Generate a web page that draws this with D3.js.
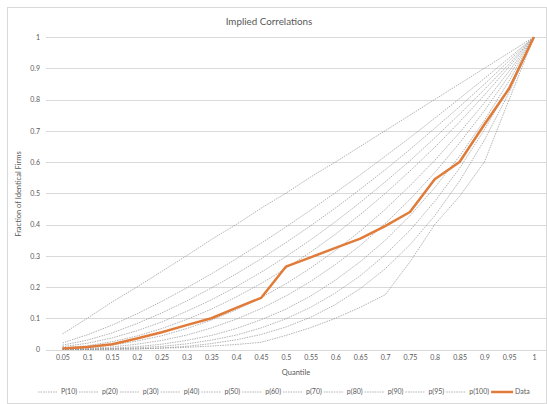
<!DOCTYPE html>
<html><head><meta charset="utf-8">
<script src="https://cdn.jsdelivr.net/npm/d3@7"></script>
<style>body{margin:0;background:#fff}svg{display:block}text{font-family:Lato,"Open Sans",sans-serif;fill:#595959}</style>
</head><body><svg id="c" width="547" height="404"></svg>
<script>
const quantiles = ["0.05","0.1","0.15","0.2","0.25","0.3","0.35","0.4","0.45","0.5","0.55","0.6","0.65","0.7","0.75","0.8","0.85","0.9","0.95","1"];
const yTicks = [0,0.1,0.2,0.3,0.4,0.5,0.6,0.7,0.8,0.9,1];
const seriesNames = ["P(10)","p(20)","p(30)","p(40)","p(50)","p(60)","p(70)","p(80)","p(90)","p(95)","p(100)"];
const p10  = [0.05,0.1,0.152,0.2,0.25,0.3,0.352,0.4,0.452,0.5,0.552,0.6,0.65,0.7,0.75,0.8,0.85,0.9,0.95,1];
const p20  = [0.021,0.047,0.078,0.114,0.154,0.197,0.242,0.29,0.34,0.392,0.446,0.502,0.559,0.618,0.678,0.74,0.803,0.867,0.933,1];
const p30  = [0.014,0.03,0.053,0.083,0.117,0.155,0.197,0.242,0.29,0.342,0.396,0.453,0.513,0.575,0.64,0.708,0.777,0.849,0.924,1];
const p40  = [0.009,0.02,0.037,0.06,0.088,0.122,0.159,0.201,0.247,0.297,0.351,0.409,0.471,0.536,0.604,0.677,0.753,0.832,0.914,1];
const p50  = [0.005,0.012,0.025,0.043,0.067,0.096,0.129,0.168,0.211,0.259,0.312,0.369,0.432,0.499,0.571,0.647,0.728,0.814,0.905,1];
const p60  = [0.003,0.007,0.014,0.027,0.044,0.067,0.094,0.127,0.166,0.21,0.261,0.317,0.379,0.448,0.524,0.605,0.694,0.789,0.891,1];
const p70  = [0.002,0.004,0.008,0.017,0.029,0.046,0.069,0.097,0.131,0.171,0.218,0.272,0.333,0.403,0.48,0.566,0.661,0.764,0.877,1];
const p80  = [0.001,0.002,0.004,0.009,0.017,0.029,0.045,0.067,0.095,0.129,0.171,0.222,0.281,0.349,0.428,0.518,0.619,0.733,0.86,1];
const p90  = [0.001,0.001,0.002,0.005,0.01,0.018,0.03,0.046,0.069,0.098,0.135,0.181,0.236,0.303,0.381,0.474,0.58,0.703,0.842,1];
const p95  = [0,0,0.001,0.002,0.005,0.01,0.019,0.031,0.048,0.072,0.103,0.144,0.195,0.258,0.335,0.428,0.539,0.67,0.823,1];
const p100 = [0,0,0.001,0.002,0.004,0.007,0.011,0.016,0.023,0.045,0.07,0.1,0.135,0.175,0.28,0.4,0.49,0.6,0.8,1];
const dataValues = [0.003,0.008,0.017,0.035,0.055,0.078,0.1,0.133,0.165,0.265,0.295,0.325,0.355,0.395,0.44,0.545,0.6,0.72,0.835,1];

const grayList = [p10,p20,p30,p40,p50,p60,p70,p80,p90,p95,p100];
const svg = d3.select("#c");
const gridColor = "#d9d9d9", grayLine = "#8a8a8a", orange = "#e07b39";

svg.append("rect").attr("x",7.5).attr("y",7.5).attr("width",539).attr("height",396)
  .attr("fill","none").attr("stroke",gridColor).attr("stroke-width",1);

const x = d3.scalePoint().domain(quantiles).range([62.5,534]);
const y = d3.scaleLinear().domain([0,1]).range([349.5,37]);

svg.append("g").selectAll("line").data(yTicks).join("line")
  .attr("x1",46).attr("x2",546).attr("y1",d=>Math.round(y(d))+0.5).attr("y2",d=>Math.round(y(d))+0.5)
  .attr("stroke",gridColor).attr("stroke-width",1);

const yAxis = d3.axisLeft(y).tickValues(yTicks).tickSize(0).tickPadding(0).tickFormat(d3.format("~g"));
const yg = svg.append("g").attr("transform","translate(40,0)").call(yAxis);
yg.select(".domain").remove();
yg.selectAll("text").style("font-size","7px").attr("fill","#595959").attr("dy","0.32em");

const xAxis = d3.axisBottom(x).tickSize(0).tickPadding(0);
const xg = svg.append("g").attr("transform","translate(0,355)").call(xAxis);
xg.select(".domain").remove();
xg.selectAll("text").style("font-size","7px").attr("fill","#595959").attr("dy","0.71em");

const line = d3.line().x((d,i)=>x(quantiles[i])).y(d=>y(d));

svg.append("g").selectAll("path").data(grayList).join("path")
  .attr("d",line).attr("fill","none").attr("stroke",grayLine).attr("stroke-width",0.65)
  .attr("stroke-dasharray","1.5,1");

svg.append("path").attr("d",line(dataValues)).attr("fill","none").attr("stroke",orange)
  .attr("stroke-width",2.5).attr("stroke-linejoin","round");

svg.append("text").attr("x",269).attr("y",24.5).attr("text-anchor","middle").style("font-size","9.8px").text("Implied Correlations");
svg.append("text").attr("x",296).attr("y",374.5).attr("text-anchor","middle").style("font-size","7.5px").text("Quantile");
svg.append("text").attr("transform","translate(21,194) rotate(-90)").attr("text-anchor","middle").style("font-size","7.5px").text("Fraction of Identical Firms");

const lg = svg.append("g");
let lx = 38; const ly = 392;
seriesNames.forEach(n=>{
  lg.append("line").attr("x1",lx).attr("x2",lx+20).attr("y1",ly).attr("y2",ly)
    .attr("stroke",grayLine).attr("stroke-width",0.65).attr("stroke-dasharray","1.5,1");
  const t = lg.append("text").attr("x",lx+23).attr("y",ly).attr("dy","0.32em").style("font-size","7px").text(n);
  lx = lx + 23 + t.node().getComputedTextLength() + 2;
});
lg.append("line").attr("x1",lx).attr("x2",lx+22).attr("y1",ly).attr("y2",ly).attr("stroke",orange).attr("stroke-width",2.5);
lg.append("text").attr("x",lx+24).attr("y",ly).attr("dy","0.32em").style("font-size","7px").text("Data");
</script></body></html>
